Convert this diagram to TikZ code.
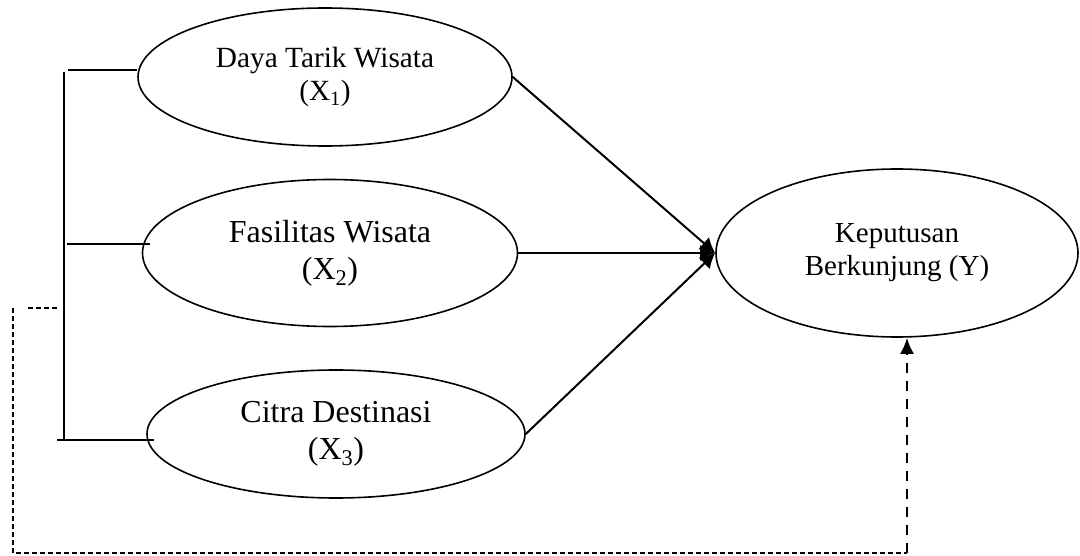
\documentclass[tikz,border=0pt]{standalone}
\usepackage{fontspec}
\setmainfont{Liberation Serif}
\usetikzlibrary{shapes.geometric,arrows.meta}
\begin{document}
\begin{tikzpicture}[x=1pt,y=-1pt,
  var/.style={draw,ellipse,line width=1.6pt,inner sep=0pt,align=center},
  solidline/.style={line width=1.8pt},
  arr/.style={line width=2pt,-{Latex[length=15pt,width=16pt]}},
  thindash/.style={line width=1.4pt,dash pattern=on 5pt off 3pt},
  thickdash/.style={line width=2.2pt,dash pattern=on 10pt off 8pt}]
\useasboundingbox (0,0) rectangle (1080,556);
\node[var,minimum width=374pt,minimum height=138pt,font=\fontsize{29.3}{33}\selectfont] (X1) at (325,77) {Daya Tarik Wisata\\(X\textsubscript{1})};
\node[var,minimum width=375pt,minimum height=147pt,font=\fontsize{32}{37}\selectfont] (X2) at (330,253) {Fasilitas Wisata\\(X\textsubscript{2})};
\node[var,minimum width=378pt,minimum height=128pt,font=\fontsize{32}{37}\selectfont] (X3) at (336,434) {Citra Destinasi\\(X\textsubscript{3})};
\node[var,minimum width=362pt,minimum height=168pt,font=\fontsize{29}{33}\selectfont] (Y) at (897,253) {Keputusan\\Berkunjung (Y)};
% bracket
\coordinate (bt) at (64,72);
\coordinate (bb) at (64,440);
\coordinate (h1) at (68,70);
\coordinate (h2) at (67,244);
\coordinate (h3) at (57,440);
\draw[solidline] (bt) -- (bb);
\draw[solidline] (h1) -- (X1.west |- h1);
\draw[solidline] (h2) -- ([xshift=8pt]X2.west |- h2);
\draw[solidline] (h3) -- ([xshift=8pt]X3.west |- h3);
% arrows to Y
\draw[arr] (X1.east) -- (Y.west);
\draw[arr] (X2.east) -- (Y.west);
\draw[arr] (X3.east) -- (Y.west);
% dashed path
\coordinate (d0) at (57,308);
\coordinate (d1) at (27,308);
\coordinate (d2) at (13,308);
\coordinate (d3) at (13,553);
\coordinate (d4) at (907,553);
\draw[thindash] (d0) -- (d1);
\draw[thindash] (d2) -- (d3) -- (d4);
\draw[thickdash,-{Latex[length=16pt,width=14pt]}] (d4) -- (d4 |- Y.south);
\end{tikzpicture}
\end{document}
